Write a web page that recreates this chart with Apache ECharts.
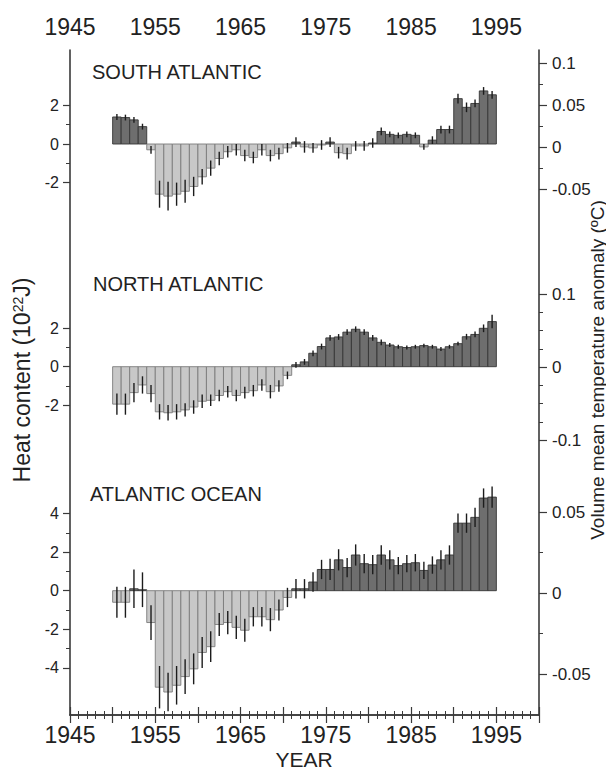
<!DOCTYPE html>
<html>
<head>
<meta charset="utf-8">
<script src="https://cdn.jsdelivr.net/npm/echarts/dist/echarts.min.js"></script>
<style>
html,body{margin:0;padding:0;background:#ffffff;}
#chart{width:606px;height:774px;}
</style>
</head>
<body>
<div id="chart"></div>
<script>
// ---------- DATA ----------
const years = [1950,1951,1952,1953,1954,1955,1956,1957,1958,1959,
               1960,1961,1962,1963,1964,1965,1966,1967,1968,1969,
               1970,1971,1972,1973,1974,1975,1976,1977,1978,1979,
               1980,1981,1982,1983,1984,1985,1986,1987,1988,1989,
               1990,1991,1992,1993,1994];

// Heat content anomaly, 10^22 J
const southHeat = [1.40,1.37,1.25,0.90,-0.30,-2.60,-2.70,-2.60,-2.45,-2.20,
                   -1.70,-1.25,-0.75,-0.40,-0.30,-0.60,-0.70,-0.30,-0.60,-0.50,
                   -0.20,0.10,-0.15,-0.20,-0.05,0.10,-0.45,-0.50,-0.10,-0.10,
                   0.05,0.65,0.50,0.45,0.50,0.45,-0.15,0.20,0.75,0.75,
                   2.35,1.90,2.10,2.75,2.55];
const southErr  = [0.15,0.15,0.15,0.15,0.20,0.70,0.75,0.60,0.60,0.50,
                   0.40,0.40,0.35,0.30,0.30,0.30,0.30,0.30,0.30,0.30,
                   0.25,0.25,0.30,0.25,0.25,0.25,0.30,0.30,0.25,0.25,
                   0.25,0.20,0.15,0.15,0.15,0.15,0.15,0.20,0.20,0.20,
                   0.25,0.25,0.20,0.20,0.20];

const northHeat = [-1.95,-1.95,-1.35,-0.95,-1.40,-2.35,-2.40,-2.35,-2.25,-2.10,
                   -1.80,-1.75,-1.50,-1.30,-1.50,-1.35,-1.25,-0.95,-1.30,-1.00,
                   -0.45,0.10,0.25,0.70,1.05,1.50,1.55,1.80,1.95,1.80,
                   1.50,1.27,1.13,1.04,1.00,1.04,1.10,1.04,0.92,1.04,
                   1.20,1.56,1.68,2.00,2.35];
const northErr  = [0.55,0.55,0.50,0.45,0.45,0.40,0.40,0.40,0.35,0.35,
                   0.35,0.30,0.30,0.30,0.30,0.30,0.30,0.30,0.35,0.30,
                   0.20,0.15,0.15,0.15,0.15,0.15,0.15,0.15,0.15,0.15,
                   0.15,0.15,0.10,0.10,0.10,0.10,0.10,0.10,0.10,0.10,
                   0.10,0.15,0.15,0.20,0.35];

const oceanHeat = [-0.60,-0.60,0.10,0.05,-1.65,-5.00,-5.25,-4.90,-4.45,-4.05,
                   -3.20,-2.90,-1.75,-1.65,-1.90,-2.05,-1.35,-1.35,-1.50,-1.00,
                   -0.35,0.10,0.10,0.45,1.10,1.10,1.60,1.20,1.85,1.40,
                   1.35,1.85,1.60,1.30,1.40,1.45,1.05,1.33,1.60,1.85,
                   3.50,3.50,3.80,4.80,4.85];
const oceanErr  = [0.80,0.80,1.00,0.90,0.90,1.10,1.00,1.00,0.90,0.80,
                   0.80,0.80,0.60,0.60,0.60,0.60,0.50,0.50,0.60,0.55,
                   0.50,0.50,0.50,0.50,0.50,0.55,0.55,0.50,0.55,0.50,
                   0.50,0.50,0.50,0.45,0.45,0.45,0.45,0.45,0.50,0.50,
                   0.50,0.50,0.50,0.50,0.55];

// tick labels
const xLabelYears = [1945,1955,1965,1975,1985,1995];
const panelTitles = ['SOUTH ATLANTIC','NORTH ATLANTIC','ATLANTIC OCEAN'];

// ---------- CHART ----------
const FONT = "'Liberation Sans', Arial, Helvetica, sans-serif";
const INK = '#222222';
const FRAME = '#3a3a3a';

function rows(vals, errs){ return years.map((y,i)=>[y, vals[i], errs[i]]); }

function renderBar(params, api){
  const yr = api.value(0), v = api.value(1), e = api.value(2);
  const p0 = api.coord([yr, 0]);
  const p1 = api.coord([yr + 1, v]);
  const eTop = api.coord([yr + 0.5, v + e]);
  const eBot = api.coord([yr + 0.5, v - e]);
  const neg = v < 0;
  return {
    type:'group',
    children:[
      {type:'rect',
       shape:{x:p0[0], y:Math.min(p0[1],p1[1]), width:p1[0]-p0[0], height:Math.abs(p1[1]-p0[1])},
       style:{fill: neg ? '#c8c8c8' : '#6e6e6e', stroke: neg ? '#7c7c7c' : '#363636', lineWidth:0.9}},
      {type:'line',
       shape:{x1:eTop[0], y1:eTop[1], x2:eBot[0], y2:eBot[1]},
       style:{stroke:'#1c1c1c', lineWidth:1.4}}
    ]
  };
}

const L = 70, W = 469;
const gridBase = {left:L, width:W, outerBoundsMode:'none', containLabel:false};

const hiddenX = (g)=>({gridIndex:g, type:'value', min:1945, max:2000, show:false});

const frameX = (pos)=>({
  gridIndex:0, type:'value', position:pos, min:1945, max:2000, interval:5,
  axisLine:{show:true, lineStyle:{color:FRAME, width:1.6}},
  axisTick:{show:true, length:8, lineStyle:{color:FRAME, width:1.2}},
  minorTick:{show:true, splitNumber:5, length:4, lineStyle:{color:FRAME, width:1}},
  splitLine:{show:false}, minorSplitLine:{show:false},
  axisLabel:{show:true, fontSize:23, color:INK, fontFamily:FONT, margin: pos === 'top' ? 12 : 8,
             formatter:(v)=> xLabelYears.indexOf(v) >= 0 ? String(v) : ''}
});

const leftY = (g, mn, mx, iv)=>({
  gridIndex:g, type:'value', position:'left', min:mn, max:mx, interval:iv,
  axisLine:{show:false},
  axisTick:{show:true, length:7, lineStyle:{color:FRAME, width:1.2}},
  minorTick:{show:true, splitNumber:2, length:4, lineStyle:{color:FRAME, width:1}},
  splitLine:{show:false}, minorSplitLine:{show:false},
  axisLabel:{fontSize:16, color:INK, fontFamily:FONT, margin:11}
});

const rightY = (g, mn, mx, iv, sn)=>({
  gridIndex:g, type:'value', position:'right', min:mn, max:mx, interval:iv,
  axisLine:{show:false},
  axisTick:{show:true, length:8, lineStyle:{color:FRAME, width:1.2}},
  minorTick:{show:true, splitNumber:sn, length:4, lineStyle:{color:FRAME, width:1}},
  splitLine:{show:false}, minorSplitLine:{show:false},
  axisLabel:{fontSize:17, color:INK, fontFamily:FONT, margin:13}
});

const chart = echarts.init(document.getElementById('chart'), null, {renderer:'svg', width:606, height:774});

const option = {
  backgroundColor:'#ffffff',
  animation:false,
  grid:[
    Object.assign({top:50,    height:665},   gridBase), // 0 frame
    Object.assign({top:105.4, height:77.2},  gridBase), // 1 south left
    Object.assign({top:328.3, height:76.8},  gridBase), // 2 north left
    Object.assign({top:513.5, height:154.4}, gridBase), // 3 ocean left
    Object.assign({top:63,    height:126},   gridBase), // 4 south right
    Object.assign({top:294,   height:146},   gridBase), // 5 north right
    Object.assign({top:512,   height:162},   gridBase)  // 6 ocean right
  ],
  xAxis:[
    frameX('top'), frameX('bottom'),
    hiddenX(1), hiddenX(2), hiddenX(3), hiddenX(4), hiddenX(5), hiddenX(6)
  ],
  yAxis:[
    {gridIndex:0, type:'value', position:'left', min:0, max:1,
     axisLine:{show:true, lineStyle:{color:FRAME, width:1.6}},
     axisTick:{show:false}, axisLabel:{show:false}, splitLine:{show:false}},
    {gridIndex:0, type:'value', position:'right', min:0, max:1,
     axisLine:{show:true, lineStyle:{color:FRAME, width:1.6}},
     axisTick:{show:false}, axisLabel:{show:false}, splitLine:{show:false}},
    leftY(1, -2, 2, 2),
    leftY(2, -2, 2, 2),
    leftY(3, -4, 4, 2),
    rightY(4, -0.05, 0.1, 0.05, 2),
    rightY(5, -0.1, 0.1, 0.1, 4),
    rightY(6, -0.05, 0.05, 0.05, 2)
  ],
  series:[
    {type:'custom', name:panelTitles[0], xAxisIndex:2, yAxisIndex:2, clip:false,
     renderItem:renderBar, data:rows(southHeat, southErr)},
    {type:'custom', name:panelTitles[1], xAxisIndex:3, yAxisIndex:3, clip:false,
     renderItem:renderBar, data:rows(northHeat, northErr)},
    {type:'custom', name:panelTitles[2], xAxisIndex:4, yAxisIndex:4, clip:false,
     renderItem:renderBar, data:rows(oceanHeat, oceanErr)}
  ],
  graphic:[
    {type:'text', left:92, top:62, style:{text:panelTitles[0], fontSize:20, fontFamily:FONT, fill:INK}},
    {type:'text', left:93, top:274, style:{text:panelTitles[1], fontSize:20, fontFamily:FONT, fill:INK}},
    {type:'text', left:90, top:484, style:{text:panelTitles[2], fontSize:20, fontFamily:FONT, fill:INK}},
    {type:'text', x:22, y:380, rotation:Math.PI/2,
     style:{text:'Heat content (10{sup|22}J)', fontSize:23, fontFamily:FONT, fill:INK,
            align:'center', verticalAlign:'middle',
            rich:{sup:{fontSize:14, fontFamily:FONT, fill:INK, verticalAlign:'top', lineHeight:23}}}},
    {type:'text', x:597, y:370, rotation:Math.PI/2,
     style:{text:'Volume mean temperature anomaly (ºC)', fontSize:19, fontFamily:FONT, fill:INK,
            align:'center', verticalAlign:'middle'}},
    {type:'text', x:304, y:759,
     style:{text:'YEAR', fontSize:21, fontFamily:FONT, fill:INK, align:'center', verticalAlign:'middle'}}
  ]
};
chart.setOption(option);
</script>
</body>
</html>
